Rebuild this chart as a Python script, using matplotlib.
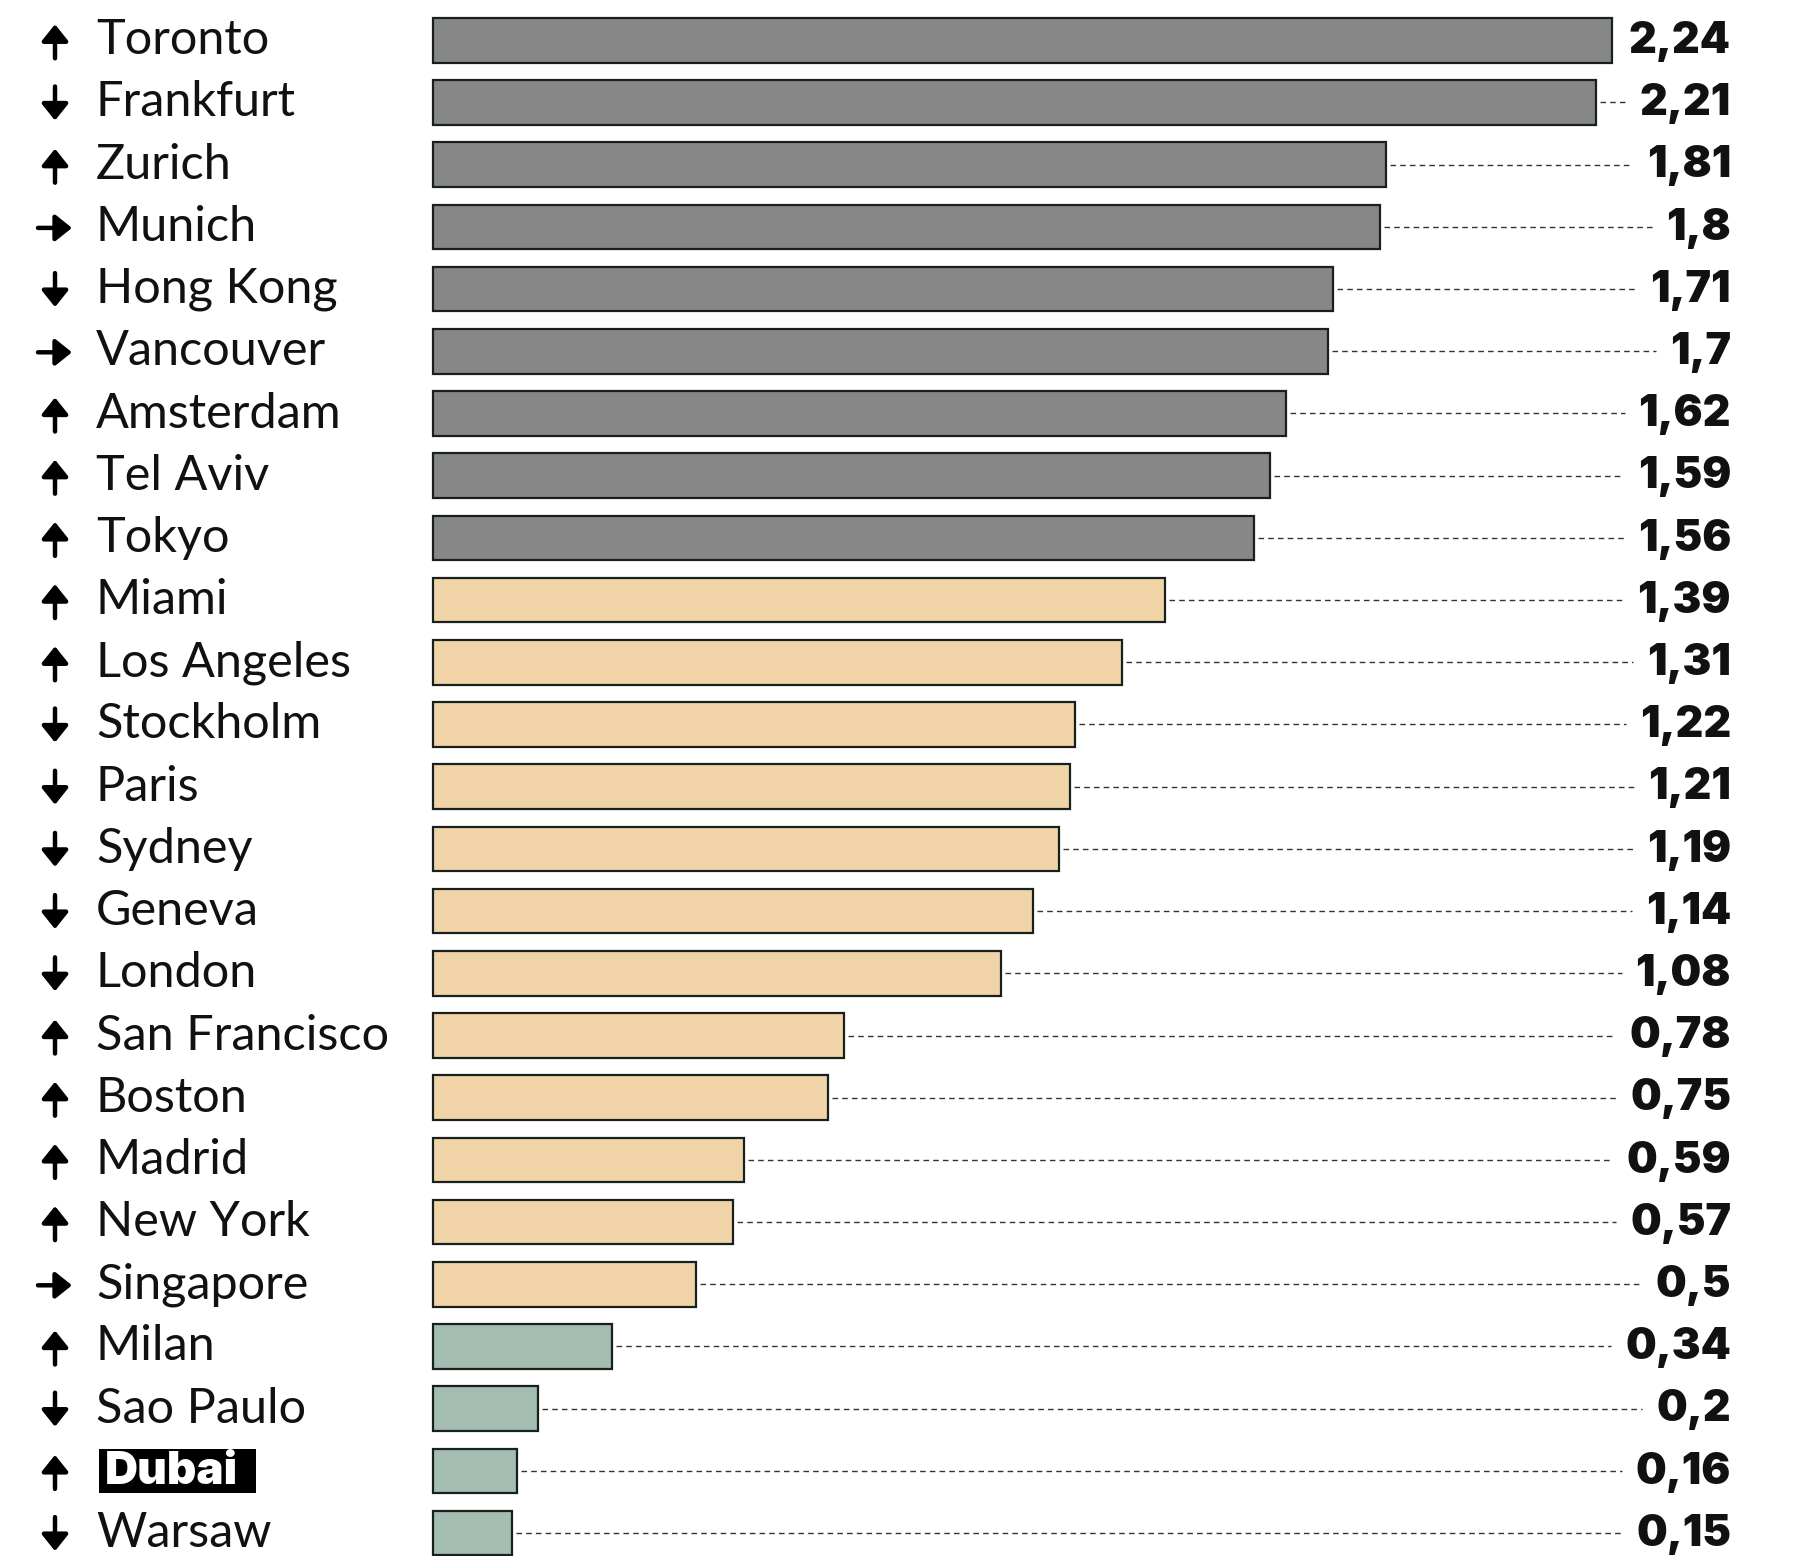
import matplotlib
matplotlib.use("Agg")
import matplotlib.pyplot as plt
import matplotlib.transforms as mtransforms
from matplotlib.patches import Rectangle, ArrowStyle

cities = ["Toronto", "Frankfurt", "Zurich", "Munich", "Hong Kong", "Vancouver",
          "Amsterdam", "Tel Aviv", "Tokyo", "Miami", "Los Angeles", "Stockholm",
          "Paris", "Sydney", "Geneva", "London", "San Francisco", "Boston",
          "Madrid", "New York", "Singapore", "Milan", "Sao Paulo", "Dubai", "Warsaw"]
values = [2.24, 2.21, 1.81, 1.8, 1.71, 1.7, 1.62, 1.59, 1.56, 1.39, 1.31, 1.22,
          1.21, 1.19, 1.14, 1.08, 0.78, 0.75, 0.59, 0.57, 0.5, 0.34, 0.2, 0.16, 0.15]
trends = ["up", "down", "up", "flat", "down", "flat", "up", "up", "up", "up",
          "up", "down", "down", "down", "down", "down", "up", "up", "up", "up",
          "flat", "up", "down", "up", "down"]
groups = ["high"] * 9 + ["mid"] * 12 + ["low"] * 4
highlight = "Dubai"

group_colors = {"high": "#878787", "mid": "#f0d4a8", "low": "#a3bdb0"}
# arrow direction as (dx, dy) in pixels, screen up = negative row offset
arrow_dirs = {"up": (0, 1), "down": (0, -1), "flat": (1, 0)}

W, H, DPI = 1793, 1556, 100
fig = plt.figure(figsize=(W / DPI, H / DPI), dpi=DPI)
ax = fig.add_axes([0, 0, 1, 1])

# pixel layout: bars start at x=433, 526.3 px per unit, rows 62.2 px apart
x0, ppu = 433, 526.3
row0, pitch = 40.3, 62.2
bar_h = 0.72
ax.set_xlim(-x0 / ppu, (W - x0) / ppu)
ax.set_ylim((H - row0) / pitch, -row0 / pitch)
ax.axis("off")

ypos = list(range(len(cities)))
ax.barh(ypos, values, height=bar_h, left=0,
        color=[group_colors[g] for g in groups],
        edgecolor="#17201c", linewidth=1.6, zorder=3)

trans_left = mtransforms.blended_transform_factory(fig.transFigure, ax.transData)
val_right = 1731 / W
arrow_style = ArrowStyle("-|>", head_length=1.0, head_width=0.8)

val_texts = []
hl_text = None
for i, (c, v, t) in enumerate(zip(cities, values, trends)):
    # trend arrow
    dx, dy = arrow_dirs[t]
    cx, cy = 55 / W, i + 1 / pitch
    half = 17
    ax.annotate("", xy=(cx + dx * half / W, cy - dy * half / pitch),
                xycoords=trans_left,
                xytext=(cx - dx * half / W, cy + dy * half / pitch),
                textcoords=trans_left,
                arrowprops=dict(arrowstyle=arrow_style, mutation_scale=10,
                                lw=3.2, color="black", shrinkA=0, shrinkB=0))
    if c == highlight:
        hl_text = ax.text(105 / W, i + 0.02, c, transform=trans_left, ha="left",
                          va="center", fontsize=33, fontweight="black",
                          family="Inter", color="white", zorder=5)
    else:
        ax.text(96 / W, i, c, transform=trans_left, ha="left", va="center",
                fontsize=35, family="Lato", color="#111111")
    lbl = f"{v:g}".replace(".", ",")
    val_texts.append(ax.text(val_right, i + 0.02, lbl, transform=trans_left,
                             ha="right", va="center", fontsize=31,
                             fontweight="black", family="Inter", color="#111111"))

fig.canvas.draw()
renderer = fig.canvas.get_renderer()
inv = ax.transData.inverted()

# black box behind the highlighted city
if hl_text is not None:
    bb = hl_text.get_window_extent(renderer)
    i = cities.index(highlight)
    bx0 = inv.transform((bb.x0 - 6, 0))[0]
    bx1 = inv.transform((bb.x1 + 18, 0))[0]
    ax.add_patch(Rectangle((bx0, i - bar_h / 2), bx1 - bx0, bar_h,
                           fc="black", ec="none", zorder=4))

# dashed leader lines from bar end to the value label
for i, (v, t) in enumerate(zip(values, val_texts)):
    bb = t.get_window_extent(renderer)
    x_end = inv.transform((bb.x0 - 14, 0))[0]
    x_start = v + 4 / ppu
    if (x_end - x_start) * ppu > 20:
        ax.plot([x_start, x_end], [i, i], color="#333333", lw=1.0,
                ls=(0, (4, 3)), zorder=2)

fig.savefig("out.png", dpi=DPI, facecolor="white")
